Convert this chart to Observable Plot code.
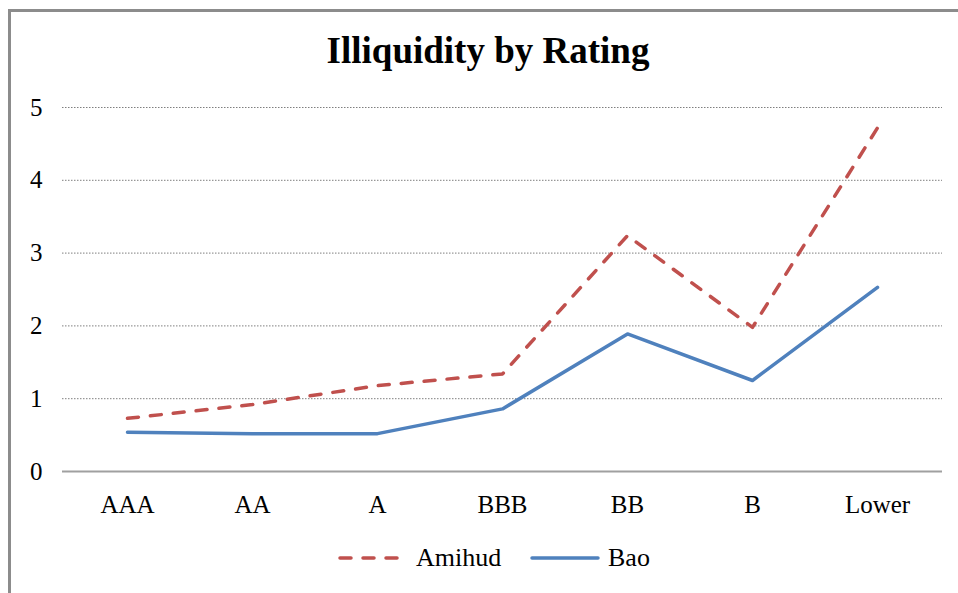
<!DOCTYPE html>
<html>
<head>
<meta charset="utf-8">
<script src="https://cdn.jsdelivr.net/npm/d3@7"></script>
<script src="https://cdn.jsdelivr.net/npm/@observablehq/plot@0.6"></script>
<style>
  html, body { margin: 0; padding: 0; background: #fff; overflow: hidden; width: 958px; height: 593px; }
  #frame { position: absolute; left: 8px; top: 9px; width: 1000px; height: 1000px; border: 3px solid #8c8c8c; box-sizing: border-box; }
  #chart { position: absolute; left: 0; top: 0; }
  #title { position: absolute; left: 0; width: 976px; top: 31px; text-align: center; font-family: "Liberation Serif", "Times New Roman", serif; font-weight: bold; font-size: 37px; color: #000; line-height: 40px; }
  #legend { position: absolute; top: 540px; left: 0; width: 958px; height: 36px; font-family: "Liberation Serif", "Times New Roman", serif; font-size: 26px; color: #000; }
  .lg { position: absolute; top: 0; display: flex; align-items: center; height: 36px; }
</style>
</head>
<body>
<div id="frame"></div>
<div id="chart"></div>
<div id="title">Illiquidity by Rating</div>
<div id="legend"></div>
<script>
const categories = ["AAA", "AA", "A", "BBB", "BB", "B", "Lower"];
const amihud = [0.73, 0.92, 1.18, 1.34, 3.24, 1.98, 4.72];
const bao = [0.54, 0.52, 0.52, 0.86, 1.89, 1.25, 2.53];
const yTicks = [0, 1, 2, 3, 4, 5];
const gridTicks = [1, 2, 3, 4, 5];
const seriesNames = ["Amihud", "Bao"];
const seriesColors = ["#C0504D", "#4F81BD"];

const amihudRows = categories.map((c, i) => ({cat: c, value: amihud[i]}));
const baoRows = categories.map((c, i) => ({cat: c, value: bao[i]}));

const chart = Plot.plot({
  width: 958,
  height: 593,
  marginTop: 107,
  marginBottom: 122,
  marginLeft: 62,
  marginRight: 16,
  style: {fontFamily: "'Liberation Serif', 'Times New Roman', serif", fontSize: "25px", color: "#000", background: "transparent"},
  x: {type: "point", domain: categories, padding: 0.5},
  y: {domain: [0, 5]},
  marks: [
    Plot.ruleY(gridTicks, {stroke: "#7f7f7f", strokeWidth: 1, strokeDasharray: "1.5,1.5"}),
    Plot.ruleY([0], {stroke: "#a0a0a0", strokeWidth: 2}),
    Plot.axisY(yTicks, {tickSize: 0, tickPadding: 20, fontSize: 25, label: null, fill: "#000", tickFormat: d3.format("d")}),
    Plot.axisX({tickSize: 0, tickPadding: 24, fontSize: 25, label: null, fill: "#000"}),
    Plot.lineY(amihudRows, {x: "cat", y: "value", stroke: seriesColors[0], strokeWidth: 3.5, strokeDasharray: "11,12", strokeLinecap: "round", strokeLinejoin: "round"}),
    Plot.lineY(baoRows, {x: "cat", y: "value", stroke: seriesColors[1], strokeWidth: 3.5, strokeLinecap: "round", strokeLinejoin: "round"})
  ]
});
document.getElementById("chart").appendChild(chart);

// Legend
const legend = document.getElementById("legend");
const legendX = [338, 530];
seriesNames.forEach((name, i) => {
  const item = document.createElement("div");
  item.className = "lg";
  item.style.left = legendX[i] + "px";
  const dash = i === 0 ? 'stroke-dasharray="11,12"' : '';
  item.innerHTML = `<svg width="70" height="10" style="margin-right:8px"><line x1="2" x2="68" y1="5" y2="5" stroke="${seriesColors[i]}" stroke-width="3.5" stroke-linecap="round" ${dash}/></svg><span>${name}</span>`;
  legend.appendChild(item);
});
</script>
</body>
</html>
